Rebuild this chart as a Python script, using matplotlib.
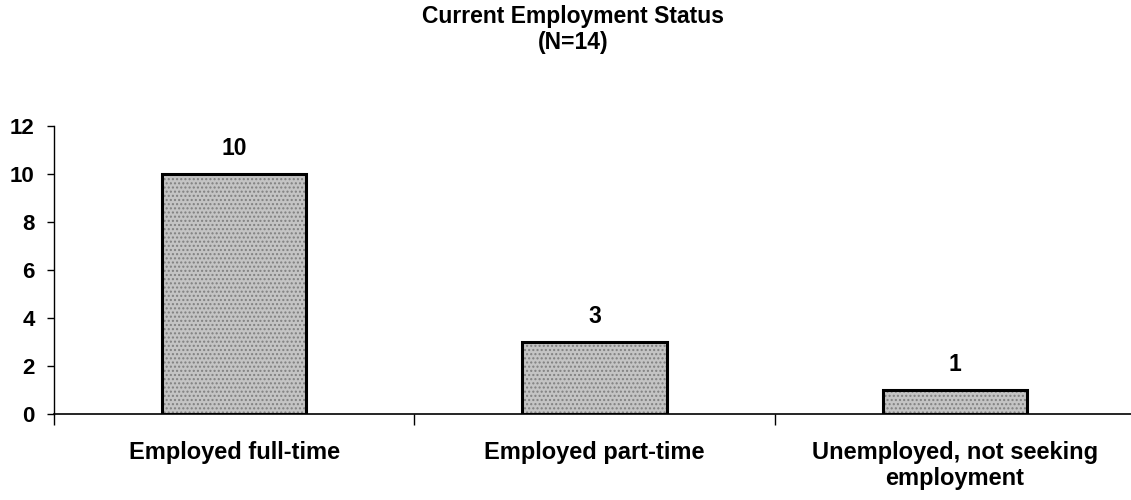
import matplotlib
matplotlib.use("Agg")
import matplotlib.pyplot as plt
import matplotlib.transforms as mtransforms
import numpy as np

categories = ["Employed full-time", "Employed part-time", "Unemployed, not seeking\nemployment"]
values = [10, 3, 1]
yticks = [0, 2, 4, 6, 8, 10, 12]
title_lines = ["Current Employment Status", "(N=14)"]

plt.rcParams['font.family'] = ['Liberation Sans', 'DejaVu Sans']

W, H = 1131, 500
fig = plt.figure(figsize=(W / 100, H / 100), dpi=100)
ax = fig.add_axes([54/W, 86/H, 1 - 54/W, 288/H])

x = np.arange(len(categories))
bars = ax.bar(x, values, width=0.4, color='#c4c4c4', edgecolor='black', linewidth=2.2,
              hatch='....', zorder=3)
for b in bars:
    b._hatch_color = (0.5, 0.5, 0.5, 1.0)

for xi, v in zip(x, values):
    ax.text(xi, v + 0.8, str(v), ha='center', va='baseline', fontsize=16.5, fontweight='bold')

ax.set_ylim(0, 12)
ax.set_xlim(-0.5, 2.5 - 4/360)
ax.set_yticks(yticks)
ax.set_yticklabels([str(t) for t in yticks], fontsize=16, fontweight='bold')

ax.set_xticks([-0.5, 0.5, 1.5])
ax.set_xticklabels([])
ax.tick_params(axis='x', direction='out', length=8, width=1)
ax.tick_params(axis='y', direction='out', length=5, width=1, pad=9)

trans = mtransforms.blended_transform_factory(ax.transData, fig.transFigure)
line_y = [452, 478]
for xi, c in zip(x, categories):
    for li, line in enumerate(c.split("\n")):
        ax.text(xi, 1 - line_y[li] / H, line, ha='center', va='center', fontsize=17,
                fontweight='bold', transform=trans)

for s in ['top', 'right']:
    ax.spines[s].set_visible(False)
ax.spines['left'].set_linewidth(1)
ax.spines['bottom'].set_linewidth(1.2)

title_y = [17, 42]
for ty, t in zip(title_y, title_lines):
    fig.text(573 / W, 1 - ty / H, t, ha='center', va='center', fontsize=16.5, fontweight='bold')

fig.savefig("out.png", dpi=100)
